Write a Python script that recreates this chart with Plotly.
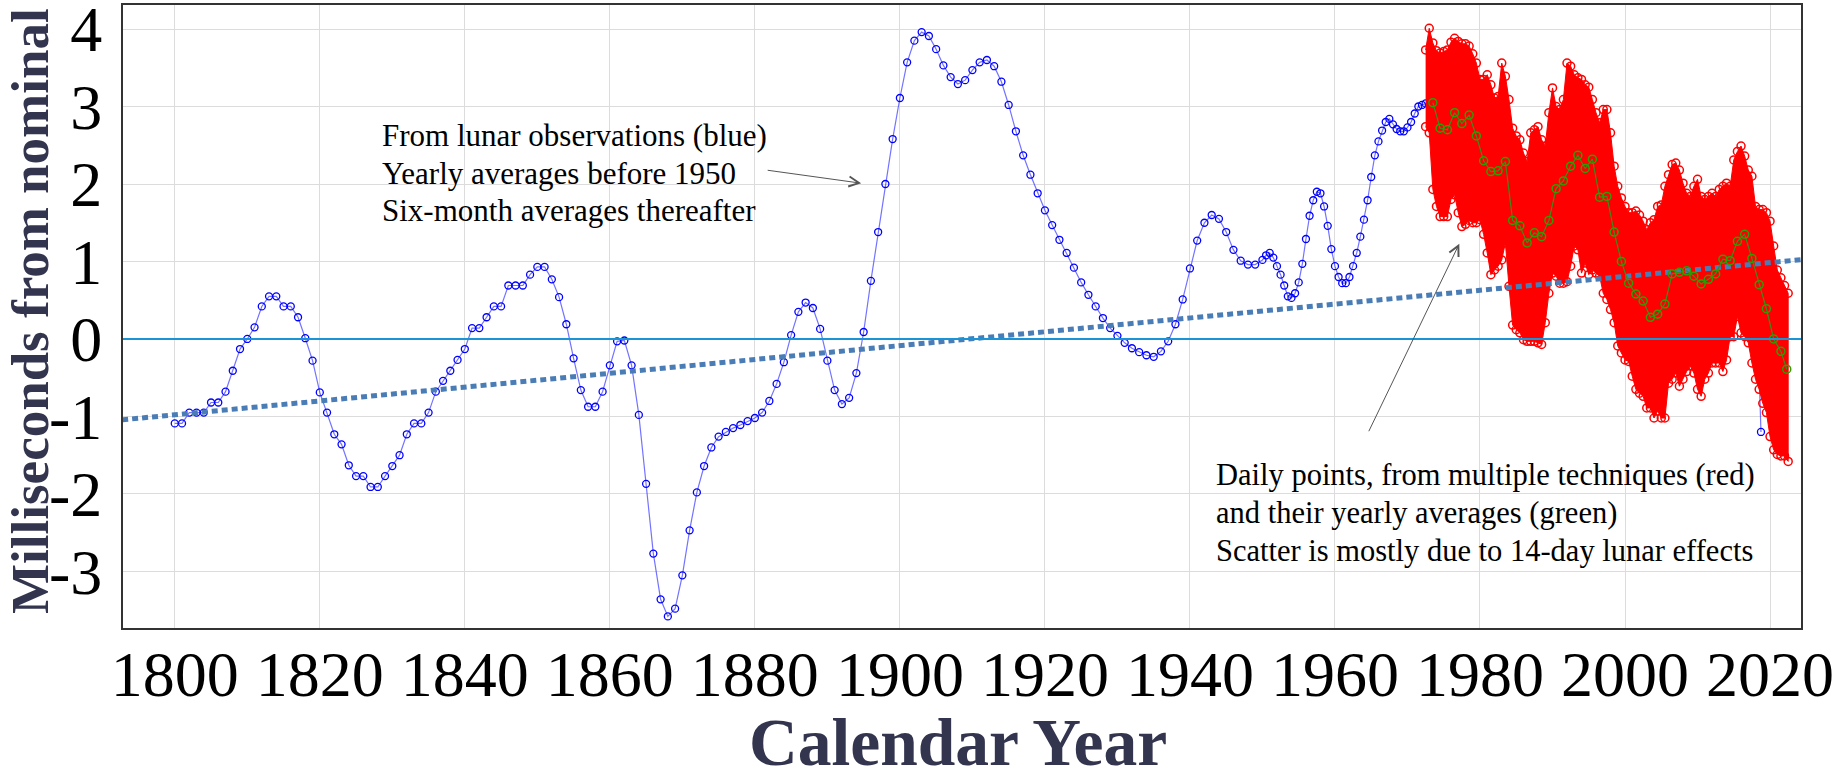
import plotly.graph_objects as go

# ---------------- data ----------------
# Lunar observations (blue): yearly averages 1800-1949, six-month averages 1950-1972.5
blue_yearly_years = list(range(1800, 1950))
blue_yearly_ms = [
    -1.09, -1.09, -0.95, -0.95, -0.95, -0.82, -0.82, -0.68, -0.41, -0.13,
    0.00, 0.15, 0.42, 0.55, 0.55, 0.42, 0.42, 0.28, 0.01, -0.28,
    -0.69, -0.95, -1.23, -1.36, -1.63, -1.77, -1.77, -1.91, -1.91, -1.77,
    -1.64, -1.50, -1.23, -1.09, -1.09, -0.95, -0.68, -0.54, -0.41, -0.27,
    -0.13, 0.14, 0.14, 0.28, 0.42, 0.42, 0.69, 0.69, 0.69, 0.83,
    0.93, 0.93, 0.77, 0.54, 0.19, -0.25, -0.66, -0.875, -0.875, -0.68,
    -0.34, -0.03, -0.02, -0.34, -0.98, -1.87, -2.77, -3.36, -3.58, -3.48,
    -3.05, -2.47, -1.98, -1.64, -1.40, -1.26, -1.20, -1.15, -1.11, -1.06,
    -1.02, -0.95, -0.80, -0.58, -0.30, 0.05, 0.35, 0.47, 0.40, 0.13,
    -0.28, -0.66, -0.84, -0.76, -0.44, 0.09, 0.75, 1.38, 2.00, 2.58,
    3.11, 3.57, 3.85, 3.96, 3.91, 3.74, 3.53, 3.38, 3.29, 3.34,
    3.47, 3.57, 3.60, 3.52, 3.32, 3.02, 2.68, 2.37, 2.12, 1.88,
    1.66, 1.47, 1.28, 1.11, 0.92, 0.73, 0.57, 0.42, 0.27, 0.14,
    0.04, -0.05, -0.12, -0.17, -0.21, -0.23, -0.16, -0.03, 0.19, 0.51,
    0.91, 1.27, 1.50, 1.60, 1.55, 1.38, 1.15, 1.01, 0.96, 0.96,
]
blue_halfyear_years = [1950 + 0.5 * i for i in range(46)]
blue_halfyear_ms = [
    1.02, 1.08, 1.11, 1.05, 0.94, 0.83, 0.69, 0.55, 0.53, 0.59,
    0.73, 0.97, 1.29, 1.59, 1.79, 1.90, 1.88, 1.71, 1.46, 1.16,
    0.94, 0.80, 0.72, 0.72, 0.80, 0.94, 1.11, 1.32, 1.54, 1.79,
    2.09, 2.37, 2.55, 2.69, 2.80, 2.84, 2.77, 2.71, 2.68, 2.68,
    2.73, 2.80, 2.91, 3.00, 3.02, 3.04,
]
blue_late_years = [2018.25, 2018.75]
blue_late_ms = [0.30, -1.20]

# Daily points (red): upper / lower envelope of the dense scatter, every half year
red_years = [1972.5 + 0.5 * i for i in range(101)]
red_upper_ms = [
    3.73, 4.01, 3.82, 3.72, 3.69, 3.71, 3.73, 3.83, 3.88, 3.84,
    3.81, 3.81, 3.78, 3.68, 3.56, 3.35, 3.35, 3.41, 3.28, 3.11,
    3.13, 3.56, 3.39, 3.09, 2.72, 2.62, 2.57, 2.40, 2.29, 2.66,
    2.70, 2.74, 2.57, 2.49, 2.92, 3.24, 3.00, 2.96, 3.09, 3.56,
    3.52, 3.41, 3.37, 3.35, 3.28, 3.25, 3.09, 2.92, 2.79, 2.96,
    2.96, 2.66, 2.23, 1.97, 1.82, 1.71, 1.63, 1.63, 1.65, 1.60,
    1.52, 1.41, 1.50, 1.54, 1.71, 1.73, 1.97, 2.12, 2.25, 2.27,
    2.18, 2.01, 1.88, 1.84, 1.97, 2.06, 1.84, 1.80, 1.84, 1.88,
    1.84, 1.93, 1.97, 2.01, 1.97, 2.31, 2.42, 2.49, 2.36, 2.18,
    2.10, 1.71, 1.67, 1.67, 1.63, 1.52, 1.20, 0.89, 0.79, 0.69,
    0.59,
]
red_lower_ms = [
    2.74, 2.66, 1.93, 1.71, 1.58, 1.58, 1.58, 1.80, 1.86, 1.63,
    1.45, 1.48, 1.53, 1.50, 1.50, 1.54, 1.35, 1.11, 0.83, 0.89,
    0.94, 1.02, 1.24, 0.68, 0.18, 0.12, 0.08, -0.01, -0.03, -0.03,
    -0.03, -0.05, -0.07, 0.21, 0.59, 0.85, 0.81, 0.72, 0.72, 0.74,
    0.94, 1.20, 1.15, 0.85, 0.98, 0.83, 0.89, 0.85, 0.81, 0.59,
    0.51, 0.38, 0.21, -0.09, -0.18, -0.27, -0.29, -0.48, -0.65, -0.70,
    -0.74, -0.89, -0.89, -1.02, -0.93, -1.02, -1.02, -0.57, -0.52, -0.44,
    -0.61, -0.52, -0.42, -0.35, -0.44, -0.65, -0.74, -0.52, -0.44, -0.31,
    -0.31, -0.31, -0.42, -0.27, 0.03, 0.03, 0.29, 0.08, 0.03, -0.05,
    -0.31, -0.52, -0.65, -0.83, -0.95, -1.26, -1.43, -1.49, -1.51, -1.51,
    -1.58,
]

# Yearly averages of the daily points (green)
green_years = [
    1973.5, 1974.5, 1975.5, 1976.5, 1977.5, 1978.5, 1979.5, 1980.5, 1981.5, 1982.5,
    1983.5, 1984.5, 1985.5, 1986.5, 1987.5, 1988.5, 1989.5, 1990.5, 1991.5, 1992.5,
    1993.5, 1994.5, 1995.5, 1996.5, 1997.5, 1998.5, 1999.5, 2000.5, 2001.5, 2002.5,
    2003.5, 2004.5, 2005.5, 2006.5, 2007.5, 2008.5, 2009.5, 2010.5, 2011.5, 2012.5,
    2013.5, 2014.5, 2015.5, 2016.5, 2017.5, 2018.5, 2019.5, 2020.5, 2021.5, 2022.3,
]
green_ms = [
    3.05, 2.72, 2.70, 2.92, 2.78, 2.89, 2.62, 2.30, 2.16, 2.17,
    2.29, 1.53, 1.46, 1.24, 1.37, 1.32, 1.53, 1.94, 2.04, 2.23,
    2.37, 2.20, 2.32, 1.83, 1.84, 1.38, 1.00, 0.72, 0.58, 0.49,
    0.28, 0.32, 0.45, 0.84, 0.86, 0.88, 0.81, 0.71, 0.77, 0.84,
    1.03, 1.01, 1.26, 1.35, 1.04, 0.70, 0.39, 0.00, -0.16, -0.39,
]

# Linear trend (dotted)
trend_years = [1790, 2030]
trend_ms = [-1.068, 1.075]

x_ticks = [1800, 1820, 1840, 1860, 1880, 1900, 1920, 1940, 1960, 1980, 2000, 2020]
y_ticks = [-3, -2, -1, 0, 1, 2, 3, 4]
y_ticktext = ["-3", "-2", "-1", "0", "1", "2", "3", "4"]

lunar_lines = ["From lunar observations (blue)", "Yearly averages before 1950",
               "Six-month averages thereafter"]
lunar_line_y = [2.631, 2.137, 1.654]
daily_lines = ["Daily points, from multiple techniques (red)", "and their yearly averages (green)",
               "Scatter is mostly due to 14-day lunar effects"]
daily_line_y = [-1.759, -2.243, -2.733]

SERIF = "Liberation Serif, Times New Roman, serif"
TITLE_COLOR = "#33354f"

# ---------------- figure ----------------
fig = go.Figure()

blue_x = blue_yearly_years + blue_halfyear_years + [None] + blue_late_years
blue_y = blue_yearly_ms + blue_halfyear_ms + [None] + blue_late_ms
fig.add_trace(go.Scatter(
    x=blue_x, y=blue_y, mode="lines+markers", connectgaps=False,
    line=dict(color="rgba(40,40,255,0.65)", width=1.2),
    marker=dict(symbol="circle-open", size=7, color="#0000ff", line=dict(width=1.3, color="#0000ff")),
    hoverinfo="skip",
))

fig.add_trace(go.Scatter(
    x=red_years + red_years[::-1], y=red_upper_ms + red_lower_ms[::-1],
    mode="lines", fill="toself", fillcolor="#ff0000",
    line=dict(color="#ff0000", width=1), hoverinfo="skip",
))
fig.add_trace(go.Scatter(
    x=red_years + red_years, y=red_upper_ms + red_lower_ms, mode="markers",
    marker=dict(symbol="circle-open", size=8, color="#ff0000", line=dict(width=1.5, color="#ff0000")),
    hoverinfo="skip",
))

fig.add_trace(go.Scatter(
    x=trend_years, y=trend_ms, mode="lines",
    line=dict(color="#4a7db6", width=5, dash="6px,4px"), hoverinfo="skip",
))

fig.add_trace(go.Scatter(
    x=green_years, y=green_ms, mode="lines+markers",
    line=dict(color="#3d8a1a", width=1.2),
    marker=dict(symbol="circle-open", size=8, color="#2e9e00", line=dict(width=1.5, color="#2e9e00")),
    hoverinfo="skip",
))

fig.add_hline(y=0, line=dict(color="#1a94d4", width=2), layer="above")

# white boxes behind the two text blocks (they hide the grid lines)
fig.add_shape(type="rect", xref="x", yref="y", x0=1828.07, x1=1881.56, y0=1.385, y1=2.935,
              fillcolor="white", line=dict(width=0), layer="below")
fig.add_shape(type="rect", xref="x", yref="y", x0=1943.2, x1=2019.87, y0=-3.018, y1=-1.494,
              fillcolor="white", line=dict(width=0), layer="below")

axis_common = dict(
    showgrid=True, gridcolor="#dcdcdc", gridwidth=1.2,
    showline=True, mirror=True, linecolor="#333333", linewidth=2,
    zeroline=False, ticks="", ticklabeloverflow="allow",
    tickfont=dict(family=SERIF, size=64, color="black"),
)
fig.update_layout(
    width=1842, height=777,
    margin=dict(l=123, r=41, t=5, b=149, autoexpand=False),
    plot_bgcolor="white", paper_bgcolor="white", showlegend=False,
    xaxis=dict(range=[1792.86, 2024.27], tickmode="array", tickvals=x_ticks,
               ticktext=[str(v) for v in x_ticks], ticklabelstandoff=-11, **axis_common),
    yaxis=dict(range=[-3.73, 4.31], tickmode="array", tickvals=y_ticks,
               ticktext=y_ticktext, ticklabelstandoff=6, **axis_common),
)

# text blocks, one annotation per line
for txt, yv in zip(lunar_lines, lunar_line_y):
    fig.add_annotation(x=1828.42, y=yv, xref="x", yref="y", text=txt, showarrow=False,
                       xanchor="left", yanchor="middle", align="left", borderpad=0,
                       font=dict(family=SERIF, size=31, color="black"))
for txt, yv in zip(daily_lines, daily_line_y):
    fig.add_annotation(x=1943.47, y=yv, xref="x", yref="y", text=txt, showarrow=False,
                       xanchor="left", yanchor="middle", align="left", borderpad=0,
                       font=dict(family=SERIF, size=30.5, color="black"))
# arrows
fig.add_annotation(x=1894.66, y=2.01, ax=1881.56, ay=2.18, xref="x", yref="y", axref="x", ayref="y",
                   text="", showarrow=True, arrowhead=5, arrowsize=2, arrowwidth=1, arrowcolor="#555555")
fig.add_annotation(x=1977.15, y=1.23, ax=1964.57, ay=-1.21, xref="x", yref="y", axref="x", ayref="y",
                   text="", showarrow=True, arrowhead=5, arrowsize=2, arrowwidth=1, arrowcolor="#555555")

# axis titles
fig.add_annotation(x=0.4976, y=-0.184, xref="paper", yref="paper", text="<b>Calendar Year</b>",
                   showarrow=False, xanchor="center", yanchor="middle",
                   font=dict(family=SERIF, size=67.5, color=TITLE_COLOR))
fig.add_annotation(x=-0.0554, y=0.509, xref="paper", yref="paper", text="<b>Milliseconds from nominal</b>",
                   showarrow=False, xanchor="center", yanchor="middle", textangle=-90,
                   font=dict(family=SERIF, size=53, color=TITLE_COLOR))

fig.write_html("out.html", include_plotlyjs=True, config={"displayModeBar": False},
               post_script="document.body.style.margin='0';document.body.style.overflow='hidden';")
